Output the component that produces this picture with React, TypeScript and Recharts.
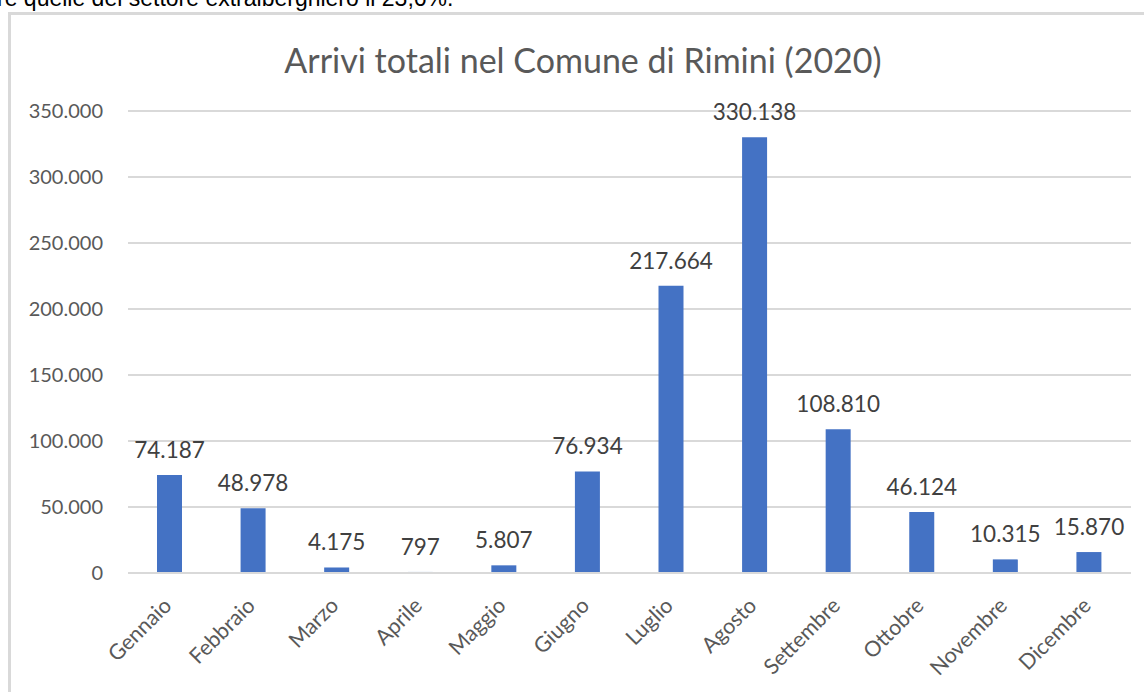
import { Bar, BarChart, CartesianGrid, LabelList, XAxis, YAxis } from "recharts";

const months = [
  "Gennaio",
  "Febbraio",
  "Marzo",
  "Aprile",
  "Maggio",
  "Giugno",
  "Luglio",
  "Agosto",
  "Settembre",
  "Ottobre",
  "Novembre",
  "Dicembre",
];

const arrivals = [
  74187, 48978, 4175, 797, 5807, 76934, 217664, 330138, 108810, 46124, 10315,
  15870,
];

const yTicks = [0, 50000, 100000, 150000, 200000, 250000, 300000, 350000];

const data = months.map((month, i) => ({ month, arrivi: arrivals[i] }));

const FONT = "Lato, 'Open Sans', sans-serif";

// punto come separatore delle migliaia
function formatIt(value: unknown): string {
  const n = typeof value === "number" ? value : Number(value);
  if (!Number.isFinite(n)) return "";
  return String(Math.round(n)).replace(/\B(?=(\d{3})+(?!\d))/g, ".");
}

function MonthTick(props: any) {
  const { x, y, payload } = props;
  return (
    <g transform={`translate(${x + 3},${y + 26})`}>
      <text
        transform="rotate(-45)"
        textAnchor="end"
        fill="#595959"
        fontSize={21.5}
        fontFamily={FONT}
      >
        {payload.value}
      </text>
    </g>
  );
}

export default function App() {
  return (
    <div
      style={{
        position: "fixed",
        left: 0,
        top: 0,
        width: 1144,
        height: 692,
        background: "#fff",
        overflow: "hidden",
      }}
    >
      <div
        style={{
          position: "absolute",
          left: -3,
          top: -15,
          fontFamily: "'Liberation Sans', Arial, sans-serif",
          fontSize: 23,
          color: "#000",
          whiteSpace: "nowrap",
        }}
      >
        re quelle del settore extralberghiero il 23,6%.
      </div>
      <div
        style={{
          position: "absolute",
          left: 8,
          top: 12,
          width: 1150,
          height: 700,
          border: "3px solid #d9d9d9",
          boxSizing: "border-box",
        }}
      />
      <div
        style={{
          position: "absolute",
          left: 0,
          top: 39,
          width: 1166,
          textAlign: "center",
          fontFamily: FONT,
          fontSize: 34,
          color: "#595959",
        }}
      >
        Arrivi totali nel Comune di Rimini (2020)
      </div>
      <div style={{ position: "absolute", left: 0, top: 0 }}>
        <BarChart
          width={1144}
          height={692}
          data={data}
          margin={{ top: 111, right: 13, left: 0, bottom: 0 }}
        >
          <CartesianGrid vertical={false} stroke="#d9d9d9" strokeWidth={2} />
          <XAxis
            dataKey="month"
            height={119}
            interval={0}
            tickLine={false}
            axisLine={{ stroke: "#d9d9d9", strokeWidth: 2 }}
            tick={<MonthTick />}
          />
          <YAxis
            width={128}
            domain={[0, 350000]}
            ticks={yTicks}
            axisLine={false}
            tickLine={false}
            tickSize={0}
            tickMargin={25}
            tickFormatter={formatIt}
            tick={{ fill: "#595959", fontSize: 20, fontFamily: FONT }}
          />
          <Bar dataKey="arrivi" fill="#4472c4" barSize={25} isAnimationActive={false}>
            <LabelList
              dataKey="arrivi"
              position="top"
              offset={17}
              formatter={formatIt}
              fill="#404040"
              fontSize={22.5}
              fontFamily={FONT}
            />
          </Bar>
        </BarChart>
      </div>
    </div>
  );
}
